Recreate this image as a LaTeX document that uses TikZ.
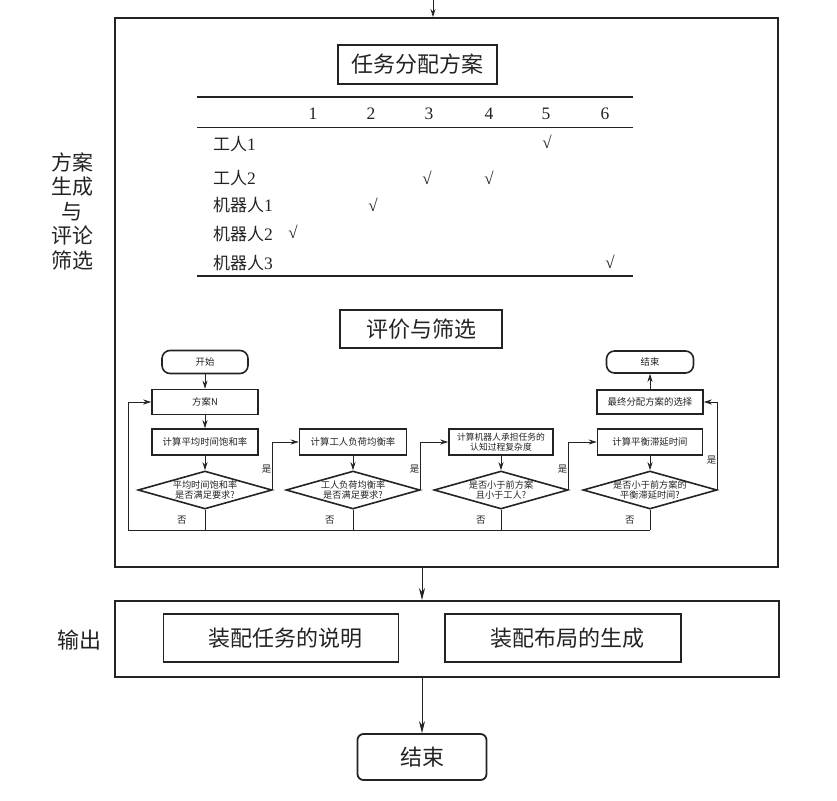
\documentclass[tikz,border=0pt]{standalone}
\usepackage{fontspec}
\setmainfont{Noto Sans CJK SC}
\newfontfamily\latinf{Liberation Serif}
\usepackage{tikz}
\usetikzlibrary{arrows.meta, shapes.geometric, positioning, calc}
\definecolor{Tinta}{RGB}{35,35,35}

\tikzset{
  panel/.style={draw=Tinta, line width=2pt, inner sep=0pt},
  titulo/.style={draw=Tinta, line width=1.6pt, inner sep=0pt, text=Tinta,
    font=\fontsize{22}{24}\selectfont},
  tabla/.style={text=Tinta, inner sep=0pt, font=\fontsize{17}{18}\selectfont},
  caja/.style={draw=Tinta, line width=1.6pt, minimum width=106pt, minimum height=25pt,
    inner sep=0pt, align=center, text=Tinta, font=\fontsize{9.4}{10.5}\selectfont},
  terminal/.style={caja, rounded corners=8pt, minimum width=86pt, minimum height=23pt},
  rombo/.style={diamond, draw=Tinta, line width=1.6pt, aspect=5, inner sep=-3pt,
    minimum width=134pt, minimum height=38pt, align=center, text=Tinta,
    font=\fontsize{9.2}{9.6}\selectfont},
  etiq/.style={text=Tinta, inner sep=1pt, font=\fontsize{9.5}{10}\selectfont},
  flecha/.style={draw=Tinta, line width=0.7pt, -{Stealth[length=8pt,width=5pt]}},
  enlace/.style={draw=Tinta, line width=0.7pt},
  flechaG/.style={draw=Tinta, line width=0.8pt, -{Stealth[length=12pt,width=6pt]}}
}

\begin{document}
\begin{tikzpicture}[x=1pt, y=-1pt]
  \useasboundingbox (0,0) rectangle (837,800);

  % marcos principales
  \node[panel, minimum width=663pt, minimum height=549pt] (gen) at (446.5,292.5) {};
  \node[panel, minimum width=664pt, minimum height=76pt] (salida) at (447,639) {};
  \node[titulo, rounded corners=6pt, line width=1.8pt, minimum width=129pt, minimum height=46pt]
    (fin) at (422,757) {结束};

  \node[text=Tinta, align=center, font=\fontsize{21}{24.5}\selectfont] (lblgen) at (72,211)
    {方案\\生成\\与\\评论\\筛选};
  \node[text=Tinta, font=\fontsize{22}{24}\selectfont] (lblsal) at (79,640) {输出};

  % tabla de asignacion
  \node[titulo, minimum width=159pt, minimum height=39pt] (tasig) at (417.5,64.5) {任务分配方案};
  \draw[Tinta, line width=2pt] (197,97) -- (633,97);
  \draw[Tinta, line width=1pt] (197,127) -- (633,127);
  \draw[Tinta, line width=2pt] (197,276) -- (633,276);
  \foreach \c/\xx in {1/313,2/371,3/429,4/489,5/546,6/605}{
    \node[tabla, font=\latinf\fontsize{17.5}{18}\selectfont] (col\c) at (\xx,114) {\c};
  }
  \foreach \r/\yy/\nom/\num in {1/144/工人/1, 2/178/工人/2, 3/205/机器人/1, 4/234/机器人/2, 5/263/机器人/3}{
    \node[tabla, anchor=west] (fila\r) at (213,\yy) {\nom{\latinf\fontsize{17.5}{18}\selectfont\num}};
  }
  \foreach \xx/\yy in {547/142, 427/178, 489/178, 373/205, 293/232, 610/262}{
    \node[tabla, font=\latinf\fontsize{17}{18}\selectfont] (chk-\xx-\yy) at (\xx,\yy) {√};
  }

  % evaluacion y seleccion
  \node[titulo, minimum width=162pt, minimum height=38pt] (teval) at (421,329) {评价与筛选};

  \node[terminal] (inicio) at (205,362) {开始};
  \node[caja] (plan) at (205,402) {方案N};
  \node[caja, minimum height=26pt] (p1) at (205,442) {计算平均时间饱和率};
  \node[rombo] (d1) at (205,490) {平均时间饱和率\\是否满足要求?};

  \node[caja, minimum width=107pt, minimum height=26pt] (p2) at (353,442) {计算工人负荷均衡率};
  \node[rombo] (d2) at (353,490) {工人负荷均衡率\\是否满足要求?};

  \node[caja, minimum width=104pt, minimum height=26pt, font=\fontsize{8.8}{9.6}\selectfont]
    (p3) at (501,442) {计算机器人承担任务的\\认知过程复杂度};
  \node[rombo] (d3) at (501,490) {是否小于前方案\\且小于工人?};

  \node[caja, minimum width=105pt, minimum height=26pt] (p4) at (650,442) {计算平衡滞延时间};
  \node[rombo] (d4) at (650,490) {是否小于前方案的\\平衡滞延时间?};

  \node[caja, minimum height=24pt] (p5) at (650,402) {最终分配方案的选择};
  \node[terminal, minimum width=87pt, minimum height=22pt] (fin1) at (650,362) {结束};

  \coordinate (busL) at (128,530);
  \coordinate (entra) at (433,0);

  \draw[flecha] (inicio) -- (plan);
  \draw[flecha] (plan) -- (p1);
  \draw[flecha] (p1) -- (d1);
  \draw[flecha] (p2) -- (d2);
  \draw[flecha] (p3) -- (d3);
  \draw[flecha] (p4) -- (d4);
  \draw[flecha] (p5) -- (fin1);

  \draw[flecha] (d1.east) |- node[etiq, pos=0.22, left] {是} (p2.west);
  \draw[flecha] (d2.east) |- node[etiq, pos=0.22, left] {是} (p3.west);
  \draw[flecha] (d3.east) |- node[etiq, pos=0.22, left] {是} (p4.west);
  \draw[flecha] (d4.east) |- node[etiq, pos=0.17, left] {是} (p5.east);

  \draw[enlace] (d1.south) -- node[etiq, left=17pt] {否} (d1.south |- busL);
  \draw[enlace] (d2.south) -- node[etiq, left=17pt] {否} (d2.south |- busL);
  \draw[enlace] (d3.south) -- node[etiq, left=14pt] {否} (d3.south |- busL);
  \draw[enlace] (d4.south) -- node[etiq, left=14pt] {否} (d4.south |- busL);
  \draw[flecha] (d4.south |- busL) -- (busL) |- (plan.west);

  % salida
  \node[titulo, minimum width=235pt, minimum height=48pt] (o1) at (281,638) {\hspace{8pt}装配任务的说明};
  \node[titulo, minimum width=236pt, minimum height=48pt] (o2) at (563,638) {\hspace{8pt}装配布局的生成};

  \draw[flecha] (entra) -- (entra |- gen.north);
  \draw[flechaG] (gen.south -| fin) -- (salida.north -| fin);
  \draw[flechaG] (salida.south -| fin) -- (fin.north);
\end{tikzpicture}
\end{document}
